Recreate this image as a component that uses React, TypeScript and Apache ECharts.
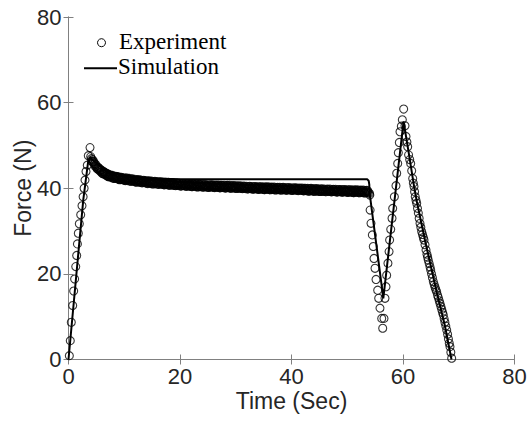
import React, { useEffect, useRef } from 'react';
import * as echarts from 'echarts';

const xTicks = [0, 20, 40, 60, 80];
const yTicks = [0, 20, 40, 60, 80];

// Experiment: loading ramp
const rampTime = [0.15, 0.32, 0.5, 0.75, 0.93, 1.1, 1.3, 1.47, 1.6, 1.76, 1.94, 2.19, 2.42, 2.62, 2.8, 2.96, 3.14, 3.37, 3.55, 3.86, 3.98, 4.1];
const rampForce = [0.9, 4.4, 8.7, 12.6, 16.0, 18.8, 21.7, 24.3, 27.0, 29.5, 31.7, 33.8, 35.9, 38.0, 40.0, 41.9, 43.9, 45.4, 47.6, 49.5, 47.4, 46.9];

// Experiment: relaxation plateau, sampled every 0.1 s from 4.2 s to 53.8 s
const plateauStart = 4.2;
const plateauStep = 0.1;
const plateauForce = [
  46.3, 46.65, 46.1, 46.3, 45.65, 45.75, 45.15, 45.55, 45.05, 44.65,
  44.5, 44.9, 44.4, 44.7, 44.1, 44.3, 43.8, 44.25, 43.8, 43.45,
  43.35, 43.85, 43.4, 43.75, 43.2, 43.45, 42.95, 43.45, 43.05, 42.75,
  42.65, 43.15, 42.75, 43.1, 42.65, 42.9, 42.45, 43.0, 42.6, 42.3,
  42.3, 42.8, 42.45, 42.8, 42.35, 42.6, 42.2, 42.7, 42.35, 42.05,
  42.0, 42.55, 42.15, 42.55, 42.05, 42.35, 41.95, 42.45, 42.1, 41.85,
  41.8, 42.35, 42.0, 42.4, 41.95, 42.15, 41.75, 42.3, 41.95, 41.7,
  41.6, 42.15, 41.8, 42.2, 41.75, 41.95, 41.55, 42.1, 41.75, 41.5,
  41.4, 41.95, 41.6, 42.0, 41.55, 41.8, 41.4, 41.95, 41.6, 41.35,
  41.25, 41.8, 41.45, 41.85, 41.4, 41.65, 41.25, 41.8, 41.45, 41.2,
  41.1, 41.65, 41.3, 41.7, 41.25, 41.5, 41.1, 41.65, 41.3, 41.05,
  41.0, 41.55, 41.2, 41.6, 41.15, 41.4, 41.0, 41.55, 41.2, 40.95,
  40.9, 41.45, 41.1, 41.5, 41.05, 41.3, 40.9, 41.45, 41.1, 40.85,
  40.8, 41.35, 41.0, 41.4, 40.95, 41.2, 40.8, 41.35, 41.0, 40.75,
  40.7, 41.25, 40.9, 41.3, 40.85, 41.1, 40.7, 41.25, 40.9, 40.65,
  40.6, 41.15, 40.8, 41.2, 40.75, 41.0, 40.6, 41.15, 40.8, 40.55,
  40.5, 41.05, 40.7, 41.1, 40.65, 40.95, 40.55, 41.1, 40.75, 40.5,
  40.45, 41.0, 40.65, 41.05, 40.6, 40.85, 40.45, 41.0, 40.65, 40.4,
  40.4, 40.95, 40.6, 41.0, 40.55, 40.8, 40.4, 40.95, 40.6, 40.35,
  40.3, 40.85, 40.5, 40.9, 40.45, 40.75, 40.35, 40.9, 40.55, 40.3,
  40.25, 40.8, 40.45, 40.85, 40.4, 40.65, 40.25, 40.8, 40.45, 40.2,
  40.2, 40.75, 40.4, 40.8, 40.35, 40.65, 40.25, 40.8, 40.45, 40.2,
  40.15, 40.7, 40.35, 40.75, 40.3, 40.6, 40.2, 40.75, 40.4, 40.15,
  40.1, 40.65, 40.3, 40.7, 40.25, 40.55, 40.15, 40.7, 40.35, 40.1,
  40.05, 40.6, 40.25, 40.65, 40.2, 40.5, 40.1, 40.65, 40.3, 40.05,
  40.0, 40.55, 40.2, 40.6, 40.15, 40.45, 40.05, 40.6, 40.25, 40.0,
  39.95, 40.5, 40.15, 40.55, 40.1, 40.4, 40.0, 40.55, 40.2, 39.95,
  39.9, 40.45, 40.1, 40.5, 40.05, 40.3, 39.9, 40.45, 40.1, 39.85,
  39.85, 40.4, 40.05, 40.45, 40.0, 40.25, 39.85, 40.4, 40.05, 39.8,
  39.8, 40.35, 40.0, 40.4, 39.95, 40.2, 39.8, 40.35, 40.0, 39.75,
  39.75, 40.3, 39.95, 40.35, 39.9, 40.15, 39.75, 40.3, 39.95, 39.7,
  39.7, 40.25, 39.9, 40.3, 39.85, 40.15, 39.75, 40.3, 39.95, 39.7,
  39.65, 40.2, 39.85, 40.25, 39.8, 40.1, 39.7, 40.25, 39.9, 39.65,
  39.6, 40.15, 39.8, 40.2, 39.75, 40.05, 39.65, 40.2, 39.85, 39.6,
  39.6, 40.15, 39.8, 40.2, 39.75, 40.0, 39.6, 40.15, 39.8, 39.55,
  39.55, 40.1, 39.75, 40.15, 39.7, 39.95, 39.55, 40.1, 39.75, 39.5,
  39.5, 40.05, 39.7, 40.1, 39.65, 39.95, 39.55, 40.1, 39.75, 39.5,
  39.45, 40.0, 39.65, 40.05, 39.6, 39.9, 39.5, 40.05, 39.7, 39.45,
  39.4, 39.95, 39.6, 40.0, 39.55, 39.8, 39.4, 39.95, 39.6, 39.35,
  39.35, 39.9, 39.55, 39.95, 39.5, 39.75, 39.35, 39.9, 39.55, 39.3,
  39.3, 39.85, 39.5, 39.9, 39.45, 39.7, 39.3, 39.85, 39.5, 39.25,
  39.25, 39.8, 39.45, 39.85, 39.4, 39.65, 39.25, 39.8, 39.45, 39.2,
  39.2, 39.75, 39.4, 39.8, 39.35, 39.65, 39.25, 39.8, 39.45, 39.2,
  39.15, 39.7, 39.35, 39.75, 39.3, 39.6, 39.2, 39.75, 39.4, 39.15,
  39.1, 39.65, 39.3, 39.7, 39.25, 39.55, 39.15, 39.7, 39.35, 39.1,
  39.1, 39.65, 39.3, 39.7, 39.25, 39.5, 39.1, 39.65, 39.3, 39.05,
  39.05, 39.6, 39.25, 39.65, 39.2, 39.45, 39.05, 39.6, 39.25, 39.0,
  39.0, 39.55, 39.2, 39.6, 39.15, 39.45, 39.05, 39.6, 39.25, 39.0,
  38.95, 39.5, 39.15, 39.55, 39.1, 39.4, 39.0, 39.55, 39.2, 38.95,
  38.9, 39.45, 39.1, 39.5, 39.05, 39.35, 38.95,
];

// Experiment: unloading / reloading / final unloading
const cycleTime = [
  54.0, 54.05, 54.1, 54.26, 54.5, 54.67, 54.8, 54.98, 55.16, 55.46, 55.64, 55.87, 56.18, 56.36, 56.59,
  56.77, 56.95, 57.07, 57.3, 57.5, 57.6, 57.8, 58.03, 58.15, 58.45, 58.74, 58.87, 59.05, 59.16, 59.34,
  59.46, 59.7, 59.88, 60.12, 60.36, 60.54, 60.7, 60.84, 61.0, 61.2, 61.38, 61.56, 61.74, 61.85, 61.97,
  62.08, 62.2, 62.33, 62.46, 62.6, 62.75, 62.9, 63.05, 63.2, 63.35, 63.5, 63.65, 63.77, 63.95, 64.13,
  64.3, 64.42, 64.54, 64.7, 64.85, 64.97, 65.12, 65.28, 65.44, 65.6, 65.75, 65.9, 66.04, 66.2, 66.35,
  66.5, 66.64, 66.8, 66.95, 67.1, 67.23, 67.38, 67.52, 67.68, 67.84, 68.0, 68.15, 68.3, 68.43, 68.58,
  68.73,
];
const cycleForce = [
  38.8, 38.4, 34.9, 31.8, 29.1, 26.4, 23.6, 21.3, 18.7, 16.2, 14.3, 12.0, 9.6, 7.3, 9.6,
  14.3, 17.0, 19.7, 22.5, 25.2, 27.9, 30.4, 33.0, 35.3, 38.0, 40.6, 43.5, 45.8, 48.3, 50.7,
  53.2, 54.5, 56.0, 58.5, 54.6, 52.1, 50.8, 49.7, 47.8, 46.7, 45.8, 44.1, 42.3, 41.2, 40.4,
  39.2, 38.0, 37.2, 36.5, 35.3, 34.2, 33.0, 31.8, 30.9, 29.9, 29.2, 28.5, 27.9, 26.8, 25.6,
  24.6, 23.9, 23.2, 22.4, 21.6, 20.9, 20.0, 19.1, 18.2, 17.5, 16.9, 16.3, 15.8, 15.0, 14.4,
  13.7, 13.1, 12.4, 11.7, 11.0, 10.4, 9.5, 8.7, 7.8, 6.9, 5.9, 4.8, 3.8, 3.0, 1.7,
  0.3,
];

// Simulation
const simTime = [0, 2.65, 3.5, 3.85, 4.3, 5, 5.65, 7, 8, 10, 12, 15, 20, 30, 40, 53.6, 53.85, 53.95, 54.0, 56.47, 60.1, 61.0, 62.0, 62.46, 64, 66, 67.5, 68.7];
const simForce = [0, 37.3, 46.0, 47.3, 46.6, 45.9, 45.3, 44.2, 43.6, 43.0, 42.6, 42.3, 42.1, 42.1, 42.1, 42.1, 41.7, 40.9, 39.0, 14.3, 55.6, 48.5, 40.3, 37.0, 27.5, 16.0, 8.0, 0];

const axisGray = '#808080';
const labelColor = '#262626';
const sansFont = 'Liberation Sans, Arial, sans-serif';
const serifFont = 'Liberation Serif, Times New Roman, serif';

export default function App() {
  const ref = useRef<HTMLDivElement>(null);

  useEffect(() => {
    if (!ref.current) return;
    const chart = echarts.init(ref.current, undefined, { renderer: 'svg' });

    const expData: number[][] = [];
    rampTime.forEach((t, i) => expData.push([t, rampForce[i]]));
    plateauForce.forEach((v, i) => expData.push([plateauStart + i * plateauStep, v]));
    cycleTime.forEach((t, i) => expData.push([t, cycleForce[i]]));
    const simData = simTime.map((t, i) => [t, simForce[i]]);

    const baseAxis = {
      type: 'value' as const,
      splitLine: { show: false },
      axisLine: { show: true, lineStyle: { color: axisGray, width: 1 } },
      axisTick: { show: true, inside: true, length: 5, lineStyle: { color: axisGray, width: 1 } },
    };

    chart.setOption({
      animation: false,
      backgroundColor: '#ffffff',
      grid: { left: 68.5, right: 13.5, top: 17, bottom: 62.5, containLabel: false, outerBoundsMode: 'none' },
      xAxis: [
        {
          ...baseAxis,
          position: 'bottom',
          min: xTicks[0],
          max: xTicks[xTicks.length - 1],
          interval: xTicks[1] - xTicks[0],
          axisLabel: { color: labelColor, fontSize: 22, fontFamily: sansFont, margin: 6 },
          name: 'Time (Sec)',
          nameLocation: 'middle',
          nameGap: 29.5,
          nameMoveOverlap: false,
          nameTextStyle: { color: labelColor, fontSize: 23, fontFamily: sansFont },
        },
        {
          ...baseAxis,
          position: 'top',
          min: xTicks[0],
          max: xTicks[xTicks.length - 1],
          interval: xTicks[1] - xTicks[0],
          axisLabel: { show: false },
        },
      ],
      yAxis: [
        {
          ...baseAxis,
          position: 'left',
          min: yTicks[0],
          max: yTicks[yTicks.length - 1],
          interval: yTicks[1] - yTicks[0],
          axisLabel: { color: labelColor, fontSize: 22, fontFamily: sansFont, margin: 7 },
          name: 'Force (N)',
          nameLocation: 'middle',
          nameGap: 34,
          nameMoveOverlap: false,
          nameTextStyle: { color: labelColor, fontSize: 23, fontFamily: sansFont },
        },
        {
          ...baseAxis,
          position: 'right',
          min: yTicks[0],
          max: yTicks[yTicks.length - 1],
          interval: yTicks[1] - yTicks[0],
          axisLabel: { show: false },
        },
      ],
      series: [
        {
          name: 'Experiment',
          type: 'scatter',
          data: expData,
          symbol: 'circle',
          symbolSize: 8,
          silent: true,
          itemStyle: { color: 'rgba(0,0,0,0)', borderColor: '#000000', borderWidth: 1.1 },
          z: 2,
        },
        {
          name: 'Simulation',
          type: 'line',
          data: simData,
          showSymbol: false,
          silent: true,
          lineStyle: { color: '#000000', width: 2 },
          z: 3,
        },
      ],
      graphic: [
        {
          type: 'circle',
          shape: { cx: 101.5, cy: 42.7, r: 4 },
          style: { fill: 'none', stroke: '#000000', lineWidth: 1 },
          silent: true,
        },
        {
          type: 'text',
          x: 119,
          y: 41,
          style: { text: 'Experiment', fill: '#000000', font: `23px ${serifFont}`, verticalAlign: 'middle', align: 'left' },
          silent: true,
        },
        {
          type: 'line',
          shape: { x1: 84, y1: 68.3, x2: 117, y2: 68.3 },
          style: { stroke: '#000000', lineWidth: 2 },
          silent: true,
        },
        {
          type: 'text',
          x: 118,
          y: 66,
          style: { text: 'Simulation', fill: '#000000', font: `23px ${serifFont}`, verticalAlign: 'middle', align: 'left' },
          silent: true,
        },
      ],
    });

    return () => chart.dispose();
  }, []);

  return (
    <div
      ref={ref}
      style={{ position: 'fixed', left: 0, top: 0, width: 528, height: 422, background: '#ffffff' }}
    />
  );
}
